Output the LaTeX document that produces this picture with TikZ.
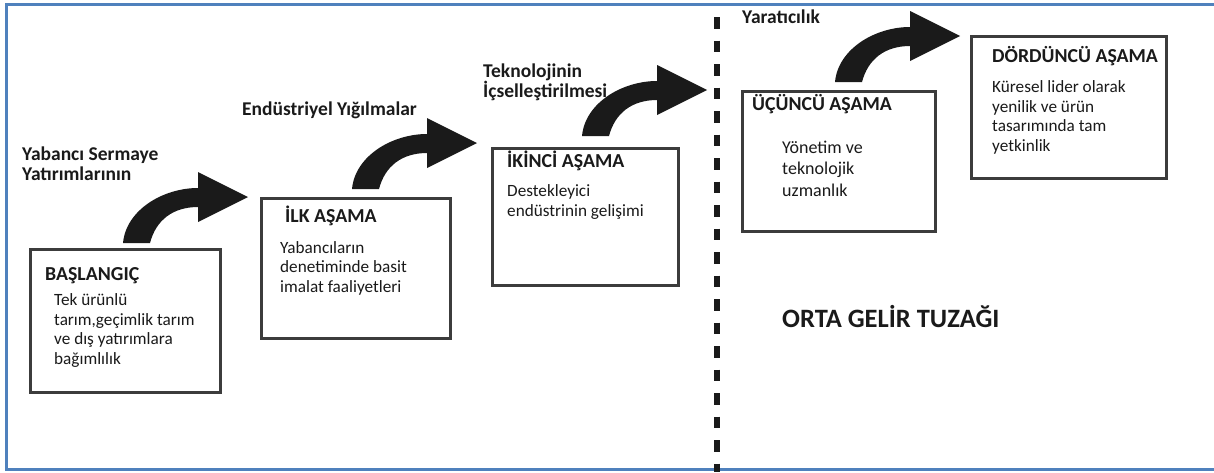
\documentclass[tikz,border=0pt]{standalone}
\usepackage{fontspec}
\setmainfont{Carlito}
\usetikzlibrary{calc}
\definecolor{frameblue}{HTML}{4F81BD}
\definecolor{ink}{HTML}{1A1A1A}
\tikzset{
  stagebox/.style={draw=ink!85, line width=2.6pt, fill=white},
  boxtitle/.style={anchor=base west, inner sep=0pt, font=\fontsize{19.8}{23}\selectfont\bfseries, text=ink},
  boxbody/.style={anchor=base west, inner sep=0pt, align=left, font=\fontsize{17.2}{19.5}\selectfont, text=ink},
  steplabel/.style={anchor=base west, inner sep=0pt, align=left, font=\fontsize{19.5}{20}\selectfont\bfseries, text=ink},
  arrowfill/.style={fill=ink},
}
\newcommand\curvedarrow[1]{%
  \fill[arrowfill] ([shift={(-125,46)}]#1)
    .. controls ([shift={(-122,13)}]#1) and ([shift={(-85,-9)}]#1) .. ([shift={(-50,-9)}]#1)
    -- ([shift={(-50,-25)}]#1) -- (#1) -- ([shift={(-50,25)}]#1) -- ([shift={(-50,10)}]#1)
    .. controls ([shift={(-75,10)}]#1) and ([shift={(-92,23)}]#1) .. ([shift={(-98,46)}]#1) -- cycle;}
\begin{document}
\begin{tikzpicture}[x=1pt,y=-1pt]
\useasboundingbox (0,0) rectangle (1214,472);
% frame
\draw[frameblue, line width=3pt] (1214,4) -- (6,4) -- (6,469) -- (1214,469);
% dashed divider
\coordinate (dtop) at (717,17);
\coordinate (dbot) at (717,472);
\draw[ink, line width=5.5pt, dash pattern=on 11.5pt off 12pt] (dtop) -- (dbot);
% boxes
\node[stagebox, minimum width=190, minimum height=143, anchor=north west] (b1) at (29,248) {};
\node[stagebox, minimum width=189, minimum height=140, anchor=north west] (b2) at (260,197) {};
\node[stagebox, minimum width=186, minimum height=137, anchor=north west] (b3) at (491,147) {};
\node[stagebox, minimum width=193, minimum height=140, anchor=north west] (b4) at (741,90) {};
\node[stagebox, minimum width=195, minimum height=142, anchor=north west] (b5) at (970,35) {};
% arrow tips
\coordinate (t1) at ($(b2.north west)+(-12,0)$);
\coordinate (t2) at ($(b3.north west)+(-14,-4)$);
\coordinate (t3) at ($(dtop)+(-10,73)$);
\coordinate (t4) at ($(b5.north west)+(-10,1)$);
\curvedarrow{t1}
\curvedarrow{t2}
\curvedarrow{t3}
\curvedarrow{t4}
% step labels (base = last line)
\node[steplabel] (l1) at (22,180) {Yabancı Sermaye\\Yatırımlarının};
\node[steplabel] (l2) at (242,115) {Endüstriyel Yığılmalar};
\node[steplabel] (l3) at (483,97) {Teknolojinin\\İçselleştirilmesi};
\node[steplabel] (l4) at (742,23) {Yaratıcılık};
% box texts
\node[boxtitle] (h1) at (45,280) {BAŞLANGIÇ};
\node[boxbody] (c1) at (54,364) {Tek ürünlü\\tarım,geçimlik tarım\\ve dış yatırımlara\\bağımlılık};
\node[boxtitle] (h2) at (285,222) {İLK AŞAMA};
\node[boxbody] (c2) at (280,292) {Yabancıların\\denetiminde basit\\imalat faaliyetleri};
\node[boxtitle] (h3) at (507,167) {İKİNCİ AŞAMA};
\node[boxbody] (c3) at (507,216) {Destekleyici\\endüstrinin gelişimi};
\node[boxtitle] (h4) at (752,110) {ÜÇÜNCÜ AŞAMA};
\node[boxbody, font=\fontsize{18}{21.5}\selectfont] (c4) at (782,196) {Yönetim ve\\teknolojik\\uzmanlık};
\node[boxtitle] (h5) at (992,62) {DÖRDÜNCÜ AŞAMA};
\node[boxbody] (c5) at (992,151) {Küresel lider olarak\\yenilik ve ürün\\tasarımında tam\\yetkinlik};
% trap label
\node[anchor=base west, inner sep=0pt, font=\fontsize{26.5}{30}\selectfont\bfseries, text=ink] (trap) at (782,327) {ORTA GELİR TUZAĞI};
\end{tikzpicture}
\end{document}
